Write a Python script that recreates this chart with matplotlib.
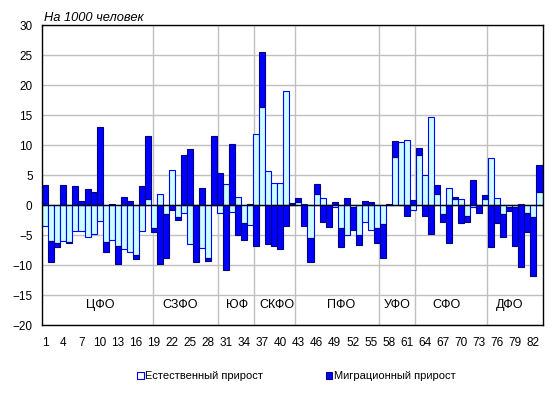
import numpy as np
import matplotlib.pyplot as plt
from matplotlib.patches import Patch

# регионы 1..83, на 1000 человек
regions = np.arange(1, 84)
natural = [-3.4, -5.9, -6.2, -6.0, -6.1, -4.3, -4.3, -5.3, -4.8, -2.6,
           -6.1, -5.8, -6.8, -7.3, -7.8, -8.3, -4.3, 1.1, -3.7, 1.8,
           -1.4, 5.9, -2.0, -1.2, -6.5, 0.0, -7.1, -8.8, 0.0, -1.3,
           3.5, -1.1, 1.3, -3.0, -3.3, 11.8, 16.4, 5.7, 3.7, 3.7,
           19.0, 0.0, 0.5, 0.3, -5.5, 1.9, 1.2, 0.0, -0.3, -3.7,
           -4.9, -0.3, -5.0, -2.8, -4.1, -3.8, -3.1, 0.0, 8.1, 10.5,
           10.8, -0.7, 8.3, 5.0, 14.7, 1.8, -1.4, 2.8, 1.0, 1.0,
           -1.8, -0.3, 0.0, 1.0, 7.8, 1.2, -1.4, -0.3, -0.3, 0.3,
           -1.2, -2.0, 2.2]
migration = [3.3, -3.6, -0.8, 3.3, -0.2, 3.2, 0.7, 2.7, 2.2, 13.0,
             -1.7, 0.3, -3.0, 1.3, 0.7, -0.7, 3.2, 10.5, -0.8, -9.7,
             -7.3, -0.7, -0.5, 8.4, 9.4, -9.5, 2.8, -0.4, 11.5, 5.3,
             -10.7, 10.2, -4.9, -2.7, 0.2, -6.7, 9.1, -6.5, -6.7, -7.2,
             -3.5, 0.4, 0.7, -3.4, -3.9, 1.7, -2.7, -3.6, 0.5, -3.2,
             1.2, -3.8, -1.6, 0.7, 0.5, -2.5, -5.6, 0.2, 2.6, 0.0,
             -1.7, 0.9, 1.2, -1.7, -4.7, 1.5, -1.4, -6.2, 0.3, -3.0,
             -1.0, 4.2, -1.3, 0.7, -7.0, -3.0, -3.9, -0.7, -6.4, -10.3,
             -3.3, -9.8, 4.5]
districts = ['ЦФО', 'СЗФО', 'ЮФ', 'СКФО', 'ПФО', 'УФО', 'СФО', 'ДФО']
district_x = [10.1, 23.4, 32.8, 39.5, 50.1, 59.3, 67.5, 78.1]
separators = [18.9, 29.6, 35.7, 42.5, 56.4, 62.3, 74.3]

plt.rcParams['font.family'] = ['Liberation Sans', 'DejaVu Sans']
plt.rcParams['font.size'] = 8.5

fig = plt.figure(figsize=(5.57, 3.93), dpi=100)
ax = fig.add_axes([0.076, 0.172, 0.898, 0.764])

nat = np.array(natural)
mig = np.array(migration)
# как в Excel: одинаковые знаки складываются, разные идут от нуля
bottom = np.where(nat * mig > 0, nat, 0)

ax.bar(regions, nat, width=1.0, color='#CCFFFF', edgecolor='#0000FF',
       linewidth=0.8, zorder=2)
ax.bar(regions, mig, bottom=bottom, width=1.0, color='#0000FF',
       edgecolor='#000080', linewidth=0.8, zorder=2)

ax.set_xlim(0.5, 83.5)
ax.set_ylim(-20, 30)
ax.set_yticks(np.arange(-20, 31, 5))
ax.set_xticks(regions[::3])
ax.tick_params(length=0)
ax.tick_params(axis='y', pad=7)
ax.tick_params(axis='x', pad=8)

ax.yaxis.grid(True, color='#C0C0C0', linewidth=1, zorder=0)
ax.set_axisbelow(True)
for s in separators:
    ax.axvline(s, color='#C0C0C0', linewidth=1, zorder=1)
ax.axhline(0, color='black', linewidth=1, zorder=3)

for sp in ax.spines.values():
    sp.set_color('black')
    sp.set_linewidth(1)

for name, x in zip(districts, district_x):
    ax.text(x, -16.6, name, ha='center', va='center', fontsize=9)

ax.text(0.004, 1.005, 'На 1000 человек', transform=ax.transAxes,
        ha='left', va='bottom', style='italic', fontsize=9.3)

handles = [Patch(facecolor='white', edgecolor='#0000FF', linewidth=0.8),
           Patch(facecolor='#0000FF', edgecolor='#000080', linewidth=0.8)]
fig.legend(handles, ['Естественный прирост', 'Миграционный прирост'],
           loc='center', bbox_to_anchor=(0.532, 0.042), ncol=2, frameon=False,
           handlelength=0.6, handleheight=0.6, handletextpad=0.15,
           columnspacing=5.6, fontsize=8)

fig.savefig('out.png', dpi=100)
